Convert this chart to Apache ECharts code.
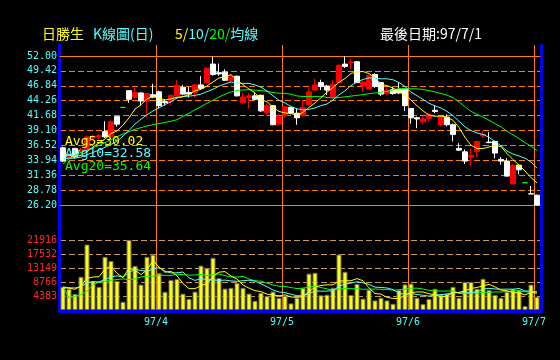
<!DOCTYPE html>
<html><head><meta charset="utf-8">
<script src="https://cdn.jsdelivr.net/npm/echarts/dist/echarts.min.js"></script>
<style>html,body{margin:0;padding:0;background:#000}#c{width:560px;height:360px}</style>
</head><body><div id="c"></div>
<script>
// ---- categories (trading days, ROC year 97) ----
const tradingDays = [
  ['97/3', [10,11,12,13,14,17,18,19,20,21,24,25,26,27,28,31]],
  ['97/4', [1,2,3,7,8,9,10,11,14,15,16,17,18,21,22,23,24,25,28,29,30]],
  ['97/5', [2,5,6,7,8,9,12,13,14,15,16,19,20,21,22,23,26,27,28,29,30]],
  ['97/6', [2,3,4,5,6,9,10,11,12,13,16,17,18,19,20,23,24,25,26,27,30]],
  ['97/7', [1]]
];
// ---- price series (OHLC) ----
const open = [36.1,34.3,36.0,35.6,35.8,37.8,38.0,38.9,38.1,41.5,
43.1,46.0,44.8,45.6,44.3,45.3,45.8,44.1,44.1,45.1,
46.6,45.7,45.7,47.0,47.4,50.6,49.1,49.2,47.8,48.5,
43.9,44.8,45.1,45.2,42.2,43.4,40.2,41.7,43.1,42.1,
41.7,43.6,46.1,47.4,46.8,44.8,47.4,50.6,50.8,51.0,
46.8,46.3,48.8,47.4,45.5,46.2,46.2,46.2,42.9,41.3,
40.6,41.2,42.6,40.1,41.4,40.1,36.0,35.4,34.5,35.5,
38.2,37.1,37.2,34.1,33.8,29.85,33.1,30.05,28.15,27.9];
const close = [33.8,35.0,34.5,35.8,38.0,38.1,38.2,38.0,40.6,40.2,
43.1,44.5,45.7,44.2,45.5,44.9,43.4,43.9,45.2,46.9,
45.4,45.4,47.0,46.4,49.9,48.8,48.9,47.8,48.5,45.1,
44.9,45.1,44.5,42.5,43.4,40.1,41.5,43.2,42.1,41.3,
43.1,45.8,47.0,46.7,46.1,47.1,50.4,50.2,50.95,47.4,
47.5,48.6,46.7,45.4,46.1,45.5,45.6,43.4,41.3,41.1,
41.1,41.9,42.4,41.5,40.1,38.4,35.7,33.8,34.8,37.2,
38.4,37.0,35.2,33.8,31.2,33.0,32.3,30.05,28.1,26.2];
const low = [33.6,34.1,34.3,35.2,35.6,37.4,37.6,37.8,37.9,39.8,
43.1,43.9,44.8,43.4,41.4,44.7,42.9,43.4,43.5,45.0,
45.2,44.8,44.8,46.3,47.2,48.6,48.6,47.7,47.5,45.0,
43.8,42.9,44.4,42.3,41.7,40.0,40.1,41.3,41.9,40.1,
41.5,43.4,46.0,46.1,45.3,44.7,47.3,49.9,49.7,47.3,
45.8,46.2,46.5,45.1,45.3,45.3,45.4,42.5,40.3,39.5,
40.2,40.6,42.1,39.8,39.8,37.2,35.6,33.3,32.9,34.5,
37.8,36.9,34.3,33.2,31.1,29.8,31.5,30.05,28.1,26.2];
const high = [36.3,35.2,36.1,36.1,38.3,38.4,38.5,40.7,40.8,41.6,
43.1,46.0,46.5,45.7,45.6,47.2,46.0,44.5,45.3,47.8,
47.0,46.6,47.2,48.5,50.0,51.9,50.7,49.7,48.8,48.6,
45.6,45.6,45.8,45.3,43.8,43.5,42.1,43.3,43.2,42.9,
44.4,46.4,48.1,47.9,47.0,47.8,50.5,52.0,51.5,51.1,
47.7,48.8,49.0,47.5,46.5,46.7,47.5,46.3,43.0,41.5,
41.5,42.0,43.5,41.6,41.9,40.3,36.9,35.8,36.0,37.3,
39.1,38.8,37.3,34.5,34.3,33.3,33.2,30.05,29.5,28.0];
// ---- price moving averages ----
const ma5 = [35.0,34.8,34.6,34.8,35.4,36.26,36.92,37.62,38.58,39.02,
40.02,41.28,42.82,43.54,44.6,44.96,44.74,44.38,44.58,44.86,
44.96,45.36,45.98,46.22,46.82,47.5,48.2,48.36,48.78,47.82,
47.04,46.28,45.62,44.42,44.08,43.12,42.4,42.14,42.06,41.64,
42.24,43.1,43.86,44.78,45.74,46.54,47.46,48.1,48.98,49.24,
49.32,48.96,48.26,47.12,46.86,46.46,45.86,45.2,44.38,43.38,
42.5,41.76,41.56,41.6,41.4,40.86,39.62,37.9,36.56,35.98,
35.98,36.24,36.52,36.32,35.12,34.06,33.12,32.09,30.95,30.02];
const ma10 = [34.2,34.3,34.3,34.5,34.9,35.3,35.7,36.2,36.7,37.21,
38.14,39.1,40.22,41.06,41.81,42.49,43.01,43.6,44.06,44.73,
44.96,45.05,45.18,45.4,45.84,46.23,46.78,47.17,47.5,47.32,
47.27,47.24,46.99,46.6,45.95,45.08,44.34,43.88,43.24,42.86,
42.68,42.75,43.0,43.42,43.69,44.39,45.28,45.98,46.88,47.49,
47.93,48.21,48.18,48.05,48.05,47.89,47.41,46.73,45.75,45.12,
44.48,43.81,43.38,42.99,42.39,41.68,40.69,39.73,39.08,38.69,
38.42,37.93,37.21,36.44,35.55,35.02,34.68,34.31,33.64,32.58];
const ma20 = [33.3,34.2,34.8,35.3,35.7,36.1,36.5,37.0,37.5,38.0,
38.5,38.9,39.3,39.6,39.9,40.1,40.3,40.5,40.7,40.97,
41.55,42.08,42.7,43.23,43.83,44.36,44.9,45.39,45.78,46.03,
46.12,46.15,46.09,46.0,45.9,45.66,45.56,45.53,45.37,45.09,
44.98,45.0,45.0,45.01,44.82,44.74,44.81,44.93,45.06,45.18,
45.31,45.48,45.59,45.74,45.87,46.14,46.35,46.36,46.32,46.31,
46.2,46.01,45.78,45.52,45.22,44.79,44.05,43.23,42.42,41.9,
41.45,40.87,40.3,39.72,38.97,38.35,37.69,37.02,36.36,35.64];
// ---- volume ----
const volume = [7270,6550,5000,10400,20500,9050,7270,16650,15350,9100,
2580,21916,13800,7950,16650,17300,11500,5700,9400,9700,
5100,3500,5760,13900,13200,16330,10000,6700,6960,8420,
6960,5130,2900,5400,4350,5760,3780,4450,2060,3830,
6960,11390,11650,4600,4800,6960,17380,11960,4700,8150,
3570,6350,3000,3830,3000,1950,6220,8000,8260,3830,
1850,3450,6650,4800,5130,7270,3830,8770,8750,6650,
9780,6220,4700,3830,5700,6650,6220,1220,7950,4150];
const vma5 = [7000,6800,6500,7500,9944,10300,10444,12774,13764,11484,
10190,13119,12549,11069,12579,15523,13440,11820,12110,10720,
8280,6680,6692,7592,8292,10538,11838,12026,10638,9682,
7808,6834,6074,5762,4948,4708,4438,4748,4080,3976,
4216,5738,7178,7686,7880,7880,9078,9140,9160,9830,
9152,6946,5154,4980,3950,3626,3600,4600,5486,5652,
5632,5078,4808,4116,4376,5460,5536,5960,6750,7054,
7556,8034,7220,6236,6046,5420,5420,4724,5548,5238];
const vma10 = [7200,7000,6900,7300,8500,8900,8800,9600,10300,10714,
10245,11782,12662,12417,12032,12857,13280,12185,11590,11650,
11902,10060,9256,9851,9506,9409,9259,9359,9115,8987,
9173,9336,9050,8200,7315,6258,5636,5411,4921,4462,
4462,5088,5963,5883,5928,6048,7408,8159,8423,8855,
8516,8012,7147,7070,6890,6389,5273,4877,5233,4801,
4629,4339,4704,4801,5014,5546,5307,5384,5433,5715,
6508,6785,6590,6493,6550,6488,6727,5972,5892,5642];
const vma20 = [7240,3800,4300,4840,5870,7960,8690,9000,9300,9520,
9730,9520,9700,10360,10580,10600,10900,10850,10800,11182,
11073,10921,10959,11134,10769,11133,11269,10772,10352,10318,
10537,9698,9153,9026,8411,7834,7448,7385,7018,6725,
6818,7212,7507,7042,6622,6153,6522,6785,6672,6659,
6489,6550,6555,6477,6409,6219,6341,6518,6828,6828,
6573,6176,5926,5936,5952,5968,5290,5131,5333,5258,
5569,5562,5647,5647,5782,6017,6017,5678,5663,5679];
// ---- axis settings / texts ----
const priceMin = 26.20, priceMax = 52.00, priceStep = 2.58;
const volMax = 21916, volStep = 4383.2;
const avgLabels = ['Avg5=30.02', 'Avg10=32.58', 'Avg20=35.64'];
const titleName = '日勝生', titleType = 'K線圖(日)', lastDate = '最後日期:97/7/1';

const YEL = '#ffff00', CYN = '#55ffff', GRN = '#00ff00', ORG = '#ff8000', BLU = '#0000ff', RED = '#ff0000';
const MONO = 'DejaVu Sans Mono', CJK = '"Noto Sans CJK TC"';

const dates = [];
tradingDays.forEach(([m, days]) => days.forEach(d => dates.push(m + '/' + d)));
const monthKey = s => s.split('/').slice(0, 2).join('/');
const isMonthStart = i => i > 0 && monthKey(dates[i]) !== monthKey(dates[i - 1]);

const candles = open.map((o, i) => {
  const item = { value: [o, close[i], low[i], high[i]] };
  if (o === close[i] && o === high[i] && o === low[i]) {
    item.itemStyle = { color: GRN, color0: GRN, borderColor: GRN, borderColor0: GRN, borderColorDoji: GRN };
  }
  return item;
});

const hiddenCat = (grid, extra) => Object.assign({
  type: 'category', gridIndex: grid, data: dates, boundaryGap: true,
  axisLine: { show: false }, axisTick: { show: false }, axisLabel: { show: false }, splitLine: { show: false }
}, extra || {});

const chart = echarts.init(document.getElementById('c'), null, { renderer: 'canvas' });
chart.setOption({
  backgroundColor: '#000',
  animation: false,
  grid: [
    { left: 60, right: 20, top: 56, height: 149 },
    { left: 60, right: 20, top: 240, height: 70 },
    { left: 60, right: 20, top: 45, bottom: 48.5 }
  ],
  xAxis: [
    hiddenCat(0, { axisLine: { show: true, onZero: false, lineStyle: { color: ORG, width: 1 } } }),
    hiddenCat(0, { position: 'top', axisLine: { show: true, onZero: false, lineStyle: { color: ORG, width: 1 } } }),
    hiddenCat(1),
    hiddenCat(2, {
      axisLine: { show: true, onZero: false, lineStyle: { color: BLU, width: 3 } },
      axisLabel: { show: true, interval: (i) => isMonthStart(i), formatter: v => monthKey(v),
        color: CYN, fontFamily: MONO, fontSize: 10, margin: 6, padding: [0, 6, 0, 0] },
      splitLine: { show: true, interval: (i) => isMonthStart(i), lineStyle: { color: ORG, width: 1 } }
    })
  ],
  yAxis: [
    { type: 'value', gridIndex: 0, min: priceMin, max: priceMax, interval: priceStep,
      axisLine: { show: false }, axisTick: { show: false },
      axisLabel: { color: CYN, fontFamily: MONO, fontSize: 10, margin: 3, formatter: v => v.toFixed(2) },
      splitLine: { show: true, lineStyle: { color: ORG, width: 1, type: [6, 3] } } },
    { type: 'value', gridIndex: 1, min: 0, max: volMax, interval: volStep,
      axisLine: { show: false }, axisTick: { show: false },
      axisLabel: { color: '#ff2a2a', fontFamily: MONO, fontSize: 10, margin: 3,
        formatter: v => v === 0 ? '' : String(Math.floor(v + 1e-6)) },
      splitLine: { show: true, lineStyle: { color: '#c89858', width: 1, type: [6, 3] } } },
    { type: 'value', gridIndex: 2, min: 0, max: 1, offset: 0.5,
      axisLine: { show: true, lineStyle: { color: BLU, width: 3 } }, axisTick: { show: false },
      axisLabel: { show: false }, splitLine: { show: false } },
    { type: 'value', gridIndex: 2, min: 0, max: 1, position: 'right', offset: 1.5,
      axisLine: { show: true, lineStyle: { color: BLU, width: 3 } }, axisTick: { show: false },
      axisLabel: { show: false }, splitLine: { show: false } }
  ],
  series: [
    { type: 'candlestick', xAxisIndex: 0, yAxisIndex: 0, data: candles, barWidth: 5, z: 3,
      itemStyle: { color: RED, color0: '#ffffff', borderColor: RED, borderColor0: '#ffffff', borderWidth: 1 } },
    { type: 'line', xAxisIndex: 0, yAxisIndex: 0, data: ma20, showSymbol: false, lineStyle: { color: GRN, width: 1 }, z: 4 },
    { type: 'line', xAxisIndex: 0, yAxisIndex: 0, data: ma10, showSymbol: false, lineStyle: { color: CYN, width: 1 }, z: 4 },
    { type: 'line', xAxisIndex: 0, yAxisIndex: 0, data: ma5, showSymbol: false, lineStyle: { color: YEL, width: 1 }, z: 4 },
    { type: 'bar', xAxisIndex: 2, yAxisIndex: 1, data: volume, barWidth: 5,
      itemStyle: { color: YEL, borderColor: '#6a6a6a', borderWidth: 1 } },
    { type: 'line', xAxisIndex: 2, yAxisIndex: 1, data: vma20, showSymbol: false, lineStyle: { color: GRN, width: 1 } },
    { type: 'line', xAxisIndex: 2, yAxisIndex: 1, data: vma10, showSymbol: false, lineStyle: { color: CYN, width: 1 } },
    { type: 'line', xAxisIndex: 2, yAxisIndex: 1, data: vma5, showSymbol: false, lineStyle: { color: YEL, width: 1 } },
    { type: 'line', xAxisIndex: 3, yAxisIndex: 2, data: [], showSymbol: false }
  ],
  graphic: [
    { type: 'text', left: 42, top: 27, style: { text: titleName, fill: YEL, font: '14px ' + CJK } },
    { type: 'text', left: 93, top: 27, style: { text: titleType, fill: CYN, font: '14px ' + CJK } },
    { type: 'text', left: 175, top: 27, style: {
        text: '{y|5/}{c|10/}{g|20/}{c|均線}', font: '14px ' + CJK,
        rich: { y: { fill: YEL, fontSize: 14, fontFamily: CJK }, c: { fill: CYN, fontSize: 14, fontFamily: CJK }, g: { fill: GRN, fontSize: 14, fontFamily: CJK } } } },
    { type: 'text', left: 380, top: 27, style: { text: lastDate, fill: '#ffffff', font: '14px ' + CJK } },
    { type: 'text', left: 65, top: 135, z: 100, style: { text: avgLabels[0], fill: YEL, font: '13px "' + MONO + '"' } },
    { type: 'text', left: 65, top: 147.5, z: 100, style: { text: avgLabels[1], fill: CYN, font: '13px "' + MONO + '"' } },
    { type: 'text', left: 65, top: 160, z: 100, style: { text: avgLabels[2], fill: GRN, font: '13px "' + MONO + '"' } }
  ]
});
</script>
</body></html>
